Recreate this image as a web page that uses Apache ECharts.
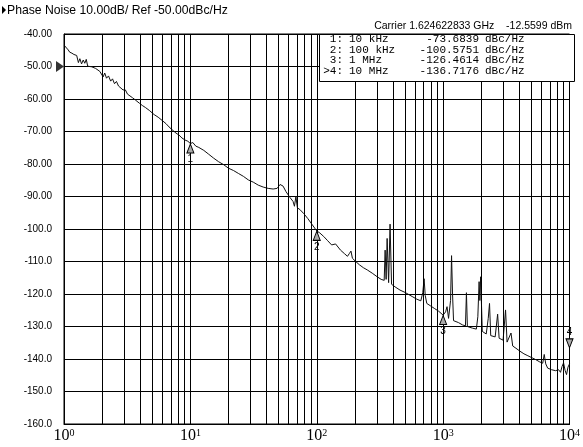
<!DOCTYPE html>
<html><head><meta charset="utf-8">
<script src="https://cdn.jsdelivr.net/npm/echarts@6/dist/echarts.min.js"></script>
<style>html,body{margin:0;padding:0;background:#fff}#c{width:583px;height:447px}</style>
</head><body><div id="c"></div>
<script>
// ---- data (frequency offset in kHz, phase noise in dBc/Hz) ----
const freqKHz = [
  1.01,1.04,1.08,1.11,1.155,1.198,1.26,1.30,1.335,1.377,
  1.42,1.46,1.50,1.54,1.66,1.78,1.92,1.99,2.04,2.10,
  2.17,2.25,2.34,2.42,2.51,2.60,2.70,2.80,2.93,3.06,
  3.18,3.29,3.48,3.67,3.80,3.95,4.17,4.40,4.73,5.17,
  5.56,5.98,6.42,6.78,7.29,7.70,8.13,8.58,9.05,9.55,
  10,10.46,11.04,11.66,12.76,13.97,15.28,16.73,18.32,20.04,
  21.93,23.99,26.28,28.76,31.48,34.44,37.71,41.28,45.16,48.55,
  51.26,54.13,57.1,61.4,64.9,66.6,68.4,70.3,73.5,79.1,
  85.0,91.4,100,105.6,113.5,122.0,131.1,140.9,146.1,154.2,
  165.8,175.0,181.5,186.5,191.5,202.2,217.3,233.7,251.2,274.9,
  300.8,323.5,341.6,347.6,354.0,360.5,370.4,380.3,390.8,416.5,
  455.8,499.1,536.3,576.4,619.5,666.0,690.8,706.8,722.1,742.5,
  798.0,857.7,922.0,1000,1046,1074,1104,1145,1166,1187,
  1209,1323,1422,1502,1529,1556,1704,1832,1882,1926,
  1953,1982,2041,2193,2275,2329,2380,2581,2700,2774,
  2982,3119,3206,3324,3445,3553,3772,4055,4358,4684,
  5035,5411,5817,6140,6310,6486,6718,7222,7762,8198,
  8492,8730,8975,9227,9475,9730,10000
];
const phaseNoise = [
  -43.6,-44.0,-44.9,-45.6,-45.9,-46.3,-46.6,-48.8,-47.6,-49.2,
  -48.0,-49.0,-47.8,-49.9,-50.1,-50.6,-51.5,-51.2,-53.2,-52.0,
  -53.6,-52.9,-54.5,-53.8,-55.3,-54.6,-56.0,-55.6,-57.2,-57.2,
  -58.5,-58.0,-59.6,-60.3,-60.6,-61.3,-62.0,-62.6,-63.5,-64.8,
  -65.6,-66.6,-67.6,-68.6,-69.7,-70.5,-71.1,-72.0,-72.6,-73.0,
  -73.7,-73.4,-74.5,-74.9,-75.8,-77.0,-78.2,-79.3,-80.2,-81.3,
  -82.0,-82.9,-83.8,-84.9,-85.6,-86.5,-87.1,-87.5,-87.7,-87.5,
  -86.3,-86.8,-88.5,-90.3,-91.5,-93.0,-90.0,-93.5,-94.0,-95.3,
  -96.8,-98.5,-100.6,-101.2,-102.3,-103.6,-104.9,-104.6,-104.2,-106.5,
  -107.6,-108.4,-107.5,-106.8,-109.0,-109.9,-111.0,-111.9,-112.6,-113.6,
  -114.7,-115.5,-115.8,-106.5,-115.5,-102.9,-116.5,-98.5,-117.0,-117.8,
  -118.8,-119.5,-120.2,-120.9,-121.6,-122.1,-119.5,-115.3,-120.5,-122.9,
  -123.7,-124.5,-125.3,-126.5,-125.5,-123.9,-127.5,-122.0,-108.2,-120.0,
  -128.2,-128.8,-129.5,-129.8,-119.6,-130.0,-130.5,-130.8,-127.0,-116.2,
  -122.0,-114.7,-131.5,-132.3,-127.5,-122.9,-132.8,-133.2,-126.2,-133.6,
  -134.2,-124.9,-134.8,-134.4,-132.0,-136.0,-136.7,-137.6,-138.4,-139.0,
  -139.6,-140.2,-140.9,-141.3,-138.6,-141.5,-142.8,-143.3,-143.6,-143.3,
  -144.1,-142.3,-141.2,-143.5,-144.8,-142.5,-141.5
];
const markerIds = ['1', '2', '3', '4'];
const markerFreq = [10, 100, 1000, 10000];
const markerFreqLabel = ['10 kHz', '100 kHz', '1 MHz', '10 MHz'];
const markerValue = [-73.6839, -100.5751, -126.4614, -136.7176];
const activeMarker = 3; // index of ">4"
const minorGridFreq = [2,3,4,5,6,7,8,9, 20,30,40,50,60,70,80,90,
  200,300,400,500,600,700,800,900, 2000,3000,4000,5000,6000,7000,8000,9000];
const xMin = 1, xMax = 10000;
const yMin = -160, yMax = -40, yStep = 10;
const refLevel = -50;
const titleText = 'Phase Noise 10.00dB/ Ref -50.00dBc/Hz';
const carrierText = 'Carrier 1.624622833 GHz    -12.5599 dBm';
const unitText = 'dBc/Hz';

// ---- chart ----
const chart = echarts.init(document.getElementById('c'), null, {renderer: 'canvas'});
const G = {left: 64, top: 34, width: 510, height: 390};
const tableX = 319, tableTop = 34, tableW = 255, tableH = 47, rowH = 10.4;

const traceData = freqKHz.map((f, i) => [f, phaseNoise[i]]);
const markerData = markerIds.map((id, i) => ({
  value: [markerFreq[i], markerValue[i]], name: id,
  symbolRotate: i === activeMarker ? 180 : 0,
  symbolOffset: i === activeMarker ? [0, -5] : [0, 5],
  label: {position: i === activeMarker ? 'top' : 'bottom'}
}));

const graphics = [
  {type: 'polygon', shape: {points: [[2, 6], [2, 14], [6, 10]]}, style: {fill: '#000'}},
  {type: 'text', x: 7, y: 11, style: {text: titleText, fontFamily: 'Liberation Sans', fontSize: 12.2, fill: '#000', textVerticalAlign: 'middle'}},
  {type: 'text', x: 572, y: 26, style: {text: carrierText, fontFamily: 'Liberation Sans', fontSize: 10.5, fill: '#000', textAlign: 'right', textVerticalAlign: 'middle'}},
  {type: 'rect', shape: {x: tableX + 0.5, y: tableTop + 0.5, width: tableW, height: tableH}, style: {fill: '#fff', stroke: '#000', lineWidth: 1}, z: 10}
];
markerIds.forEach((id, i) => {
  const y = tableTop + 5.5 + i * rowH;
  const mono = (text, align) => ({text: text, textAlign: align, fontFamily: 'Liberation Mono', fontSize: 11, fill: '#000', textVerticalAlign: 'middle'});
  graphics.push({type: 'text', z: 11, x: 343, y: y, style: mono((i === activeMarker ? '>' : '') + id + ':', 'right')});
  graphics.push({type: 'text', z: 11, x: 349, y: y, style: mono(markerFreqLabel[i], 'left')});
  graphics.push({type: 'text', z: 11, x: 479, y: y, style: mono(markerValue[i].toFixed(4), 'right')});
  graphics.push({type: 'text', z: 11, x: 485, y: y, style: mono(unitText, 'left')});
});

const option = {
  animation: false,
  backgroundColor: '#fff',
  grid: Object.assign({show: true, borderColor: '#000', borderWidth: 1, backgroundColor: '#fff'}, G),
  xAxis: {
    type: 'log', logBase: 10, min: xMin, max: xMax,
    axisLine: {show: true, lineStyle: {color: '#000', width: 1}},
    axisTick: {show: false},
    splitLine: {show: true, lineStyle: {color: '#000', width: 1}},
    axisLabel: {
      margin: 4, color: '#000',
      formatter: v => '{b|10}{s|' + Math.round(Math.log10(v)) + '}',
      rich: {
        b: {fontFamily: 'Liberation Serif', fontSize: 16, color: '#000'},
        s: {fontFamily: 'Liberation Serif', fontSize: 10, color: '#000', verticalAlign: 'top'}
      }
    }
  },
  yAxis: {
    type: 'value', min: yMin, max: yMax, interval: yStep,
    axisLine: {show: true, lineStyle: {color: '#000', width: 1}},
    axisTick: {show: false},
    splitLine: {show: true, lineStyle: {color: '#000', width: 1}},
    axisLabel: {
      margin: 12, color: '#000', fontFamily: 'Liberation Sans', fontSize: 10,
      formatter: v => Math.abs(v) >= 100 ? v.toFixed(1) : v.toFixed(2)
    }
  },
  series: [
    {
      type: 'line', data: [], z: 1, silent: true,
      markLine: {
        silent: true, symbol: ['none', 'none'], animation: false,
        label: {show: false},
        lineStyle: {color: '#000', width: 1, type: 'solid'},
        emphasis: {disabled: true},
        data: minorGridFreq.map(f => ({xAxis: f}))
      }
    },
    {
      type: 'line', data: traceData, z: 3, showSymbol: false, silent: true,
      lineStyle: {color: '#111', width: 1}
    },
    {
      type: 'scatter', data: markerData, z: 5, clip: false, silent: true,
      symbol: 'triangle', symbolSize: [7, 9],
      itemStyle: {color: '#aaa', borderColor: '#000', borderWidth: 1, opacity: 1},
      label: {show: true, formatter: p => p.name, fontFamily: 'Liberation Sans', fontSize: 10, color: '#000', distance: 1}
    },
    {
      type: 'scatter', data: [[xMin, refLevel]], z: 6, clip: false, silent: true,
      symbol: 'triangle', symbolSize: [11, 8], symbolRotate: -90, symbolOffset: [-4, 0],
      itemStyle: {color: '#000'}
    }
  ],
  graphic: graphics
};
chart.setOption(option);
</script>
</body></html>
